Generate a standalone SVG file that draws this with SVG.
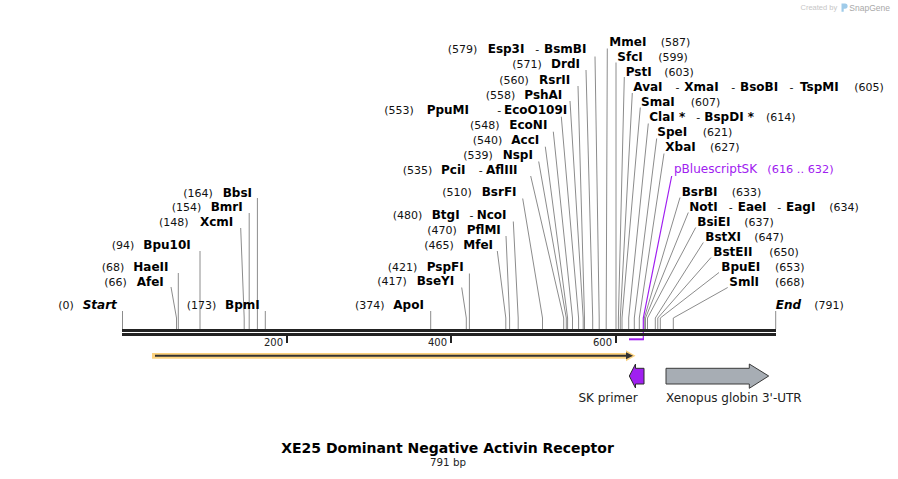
<svg xmlns="http://www.w3.org/2000/svg" width="898" height="479" viewBox="0 0 898 479">
<style>
text{font-family:"DejaVu Sans",Verdana,sans-serif;fill:#111}
.n{font-size:11px}
.b{font-size:12px;font-weight:bold;fill:#000}
.bi{font-size:12px;font-weight:bold;font-style:italic;fill:#000}
.h{font-size:11px}
.p{fill:#a020f0}
.ld{stroke:#8c8c8c;stroke-width:1;fill:none}
.tk{font-size:10px;fill:#222;text-anchor:end}
.fl{font-size:12px;fill:#222}
</style>
<rect width="898" height="479" fill="#fff"/>

<g id="watermark">
<text x="800.5" y="10" style="font-family:'Liberation Sans',Arial,sans-serif;font-size:7.5px;fill:#c6c6c6">Created by</text>
<path d="M841.5 3.5h3.5a2.6 2.6 0 0 1 0 5.2h-1.3v3h-2.2z" fill="#9fcbe9"/>
<text x="849.3" y="10.5" style="font-family:'Liberation Sans',Arial,sans-serif;font-size:8.5px;fill:#a8a8a8">SnapGene</text>
</g>

<g id="connectors">
<polyline class="ld" points="122.5,311 122.5,329"/>
<polyline class="ld" points="171,287 176.5,318 176.5,329"/>
<polyline class="ld" points="178.3,273 178.3,329"/>
<polyline class="ld" points="200,251 200,329"/>
<polyline class="ld" points="240.7,228 244.2,318 244.2,329"/>
<polyline class="ld" points="249.2,213 249.2,329"/>
<polyline class="ld" points="257.4,198 257.4,329"/>
<polyline class="ld" points="265.3,311 265.3,329"/>
<polyline class="ld" points="430.7,311 430.7,329"/>
<polyline class="ld" points="461.7,287.5 466.3,318 466.3,329"/>
<polyline class="ld" points="469.4,273.5 469.4,329"/>
<polyline class="ld" points="497.3,251 505.8,318 505.8,329"/>
<polyline class="ld" points="506,236 509.6,318 509.6,329"/>
<polyline class="ld" points="513.3,221.5 518.2,318 518.2,329"/>
<polyline class="ld" points="522.7,198.5 542.5,318 542.5,329"/>
<polyline class="ld" points="530.7,176 563.7,318 563.7,329"/>
<polyline class="ld" points="538.7,161.5 566.3,318 566.3,329"/>
<polyline class="ld" points="545.3,146.7 567.6,318 567.6,329"/>
<polyline class="ld" points="553.3,131.7 572.5,318 572.5,329"/>
<polyline class="ld" points="561.3,116.7 578.6,318 578.6,329"/>
<polyline class="ld" points="570,101 583.2,318 583.2,329"/>
<polyline class="ld" points="578,86 584.5,318 584.5,329"/>
<polyline class="ld" points="586,70 592.7,318 592.7,329"/>
<polyline class="ld" points="595,56.5 599.2,318 599.2,329"/>
<polyline class="ld" points="607.3,48.5 606.2,318 606.2,329"/>
<polyline class="ld" points="616,62.5 616,329"/>
<polyline class="ld" points="624.3,77 618.4,318 618.4,329"/>
<polyline class="ld" points="632.3,93 620.3,318 620.3,329"/>
<polyline class="ld" points="640.3,107.5 622,318 622,329"/>
<polyline class="ld" points="648.3,123.5 628.7,318 628.7,329"/>
<polyline class="ld" points="656.7,138.5 634.3,318 634.3,329"/>
<polyline class="ld" points="664,153.5 639.3,318 639.3,329"/>
<polyline class="ld" points="680,197.5 644.3,318 644.3,329"/>
<polyline class="ld" points="688.3,212.5 645.5,318 645.5,329"/>
<polyline class="ld" points="695.7,227.5 647.5,318 647.5,329"/>
<polyline class="ld" points="703.3,242.5 655.3,318 655.3,329"/>
<polyline class="ld" points="711,257.5 657.8,318 657.8,329"/>
<polyline class="ld" points="719,272.5 660.3,318 660.3,329"/>
<polyline class="ld" points="727.7,287.5 673.3,318 673.3,329"/>
<polyline class="ld" points="775.7,311 775.7,329"/>
<polyline points="671.7,176 643.3,318 643.3,340" style="stroke:#a020f0;stroke-width:1.2;fill:none"/>
<line x1="629" y1="339.3" x2="643.8" y2="339.3" style="stroke:#a020f0;stroke-width:2"/>
</g>

<g id="backbone">
<rect x="122" y="329" width="654" height="3" fill="#222"/>
<rect x="122" y="333" width="654" height="3" fill="#222"/>
<rect x="286" y="335" width="2" height="8" fill="#222"/>
<rect x="450" y="335" width="2" height="8" fill="#222"/>
<rect x="615" y="335" width="2" height="8" fill="#222"/>
<text class="tk" x="283" y="346">200</text>
<text class="tk" x="447" y="346">400</text>
<text class="tk" x="612" y="346">600</text>
</g>

<g id="sites-left">
<text x="58.3" y="308.5" class="n">(0)</text><text x="82.7" y="308.5" class="bi">Start</text>
<text x="104.3" y="285.5" class="n">(66)</text><text x="136.7" y="285.5" class="b">AfeI</text>
<text x="101.7" y="271" class="n">(68)</text><text x="133.3" y="271" class="b">HaeII</text>
<text x="111.7" y="248.5" class="n">(94)</text><text x="143.3" y="248.5" class="b">Bpu10I</text>
<text x="159" y="225.5" class="n">(148)</text><text x="200" y="225.5" class="b">XcmI</text>
<text x="171.7" y="211" class="n">(154)</text><text x="210.7" y="211" class="b">BmrI</text>
<text x="183.3" y="196.5" class="n">(164)</text><text x="222.7" y="196.5" class="b">BbsI</text>
<text x="186.7" y="308.5" class="n">(173)</text><text x="225" y="308.5" class="b">BpmI</text>
</g>

<g id="sites-middle">
<text x="355" y="308.5" class="n">(374)</text><text x="393.3" y="308.5" class="b">ApoI</text>
<text x="377.3" y="285" class="n">(417)</text><text x="416.7" y="285" class="b">BseYI</text>
<text x="387.7" y="270.5" class="n">(421)</text><text x="426.7" y="270.5" class="b">PspFI</text>
<text x="424.3" y="248.5" class="n">(465)</text><text x="463.3" y="248.5" class="b">MfeI</text>
<text x="427.3" y="233.5" class="n">(470)</text><text x="466.7" y="233.5" class="b">PflMI</text>
<text x="392.7" y="218.5" class="n">(480)</text><text x="431.7" y="218.5" class="b">BtgI</text><text x="469.5" y="218.5" class="h">-</text><text x="476.7" y="218.5" class="b">NcoI</text>
<text x="442.3" y="196" class="n">(510)</text><text x="481.7" y="196" class="b">BsrFI</text>
<text x="402.7" y="173.5" class="n">(535)</text><text x="441" y="173.5" class="b">PciI</text><text x="478.8" y="173.5" class="h">-</text><text x="486" y="173.5" class="b">AflIII</text>
<text x="463.3" y="158.5" class="n">(539)</text><text x="502.7" y="158.5" class="b">NspI</text>
<text x="472.7" y="143.5" class="n">(540)</text><text x="511.3" y="143.5" class="b">AccI</text>
<text x="470" y="128.5" class="n">(548)</text><text x="509.3" y="128.5" class="b">EcoNI</text>
<text x="384.3" y="113.5" class="n">(553)</text><text x="426.7" y="113.5" class="b">PpuMI</text><text x="497.2" y="113.5" class="h">-</text><text x="504" y="113.5" class="b">EcoO109I</text>
<text x="485.7" y="98.5" class="n">(558)</text><text x="524.3" y="98.5" class="b">PshAI</text>
<text x="499.3" y="83.5" class="n">(560)</text><text x="539" y="83.5" class="b">RsrII</text>
<text x="512.3" y="68" class="n">(571)</text><text x="551" y="68" class="b">DrdI</text>
<text x="447.7" y="53" class="n">(579)</text><text x="487.7" y="53" class="b">Esp3I</text><text x="535.2" y="53" class="h">-</text><text x="544" y="53" class="b">BsmBI</text>
</g>

<g id="sites-right">
<text x="609.3" y="46" class="b">MmeI</text><text x="660.7" y="46" class="n">(587)</text>
<text x="617.3" y="60.5" class="b">SfcI</text><text x="658.3" y="60.5" class="n">(599)</text>
<text x="625.7" y="75.5" class="b">PstI</text><text x="664.3" y="75.5" class="n">(603)</text>
<text x="633.3" y="90.5" class="b">AvaI</text><text x="675.5" y="90.5" class="h">-</text><text x="684.3" y="90.5" class="b">XmaI</text><text x="731.2" y="90.5" class="h">-</text><text x="740" y="90.5" class="b">BsoBI</text><text x="789.5" y="90.5" class="h">-</text><text x="800" y="90.5" class="b">TspMI</text><text x="854.3" y="90.5" class="n">(605)</text>
<text x="641" y="105.5" class="b">SmaI</text><text x="690.7" y="105.5" class="n">(607)</text>
<text x="649.3" y="120.5" class="b">ClaI *</text><text x="696.2" y="120.5" class="h">-</text><text x="704.3" y="120.5" class="b">BspDI *</text><text x="766" y="120.5" class="n">(614)</text>
<text x="657.3" y="135.5" class="b">SpeI</text><text x="702.7" y="135.5" class="n">(621)</text>
<text x="665.3" y="150.5" class="b">XbaI</text><text x="710" y="150.5" class="n">(627)</text>
<text x="674" y="173" class="p" style="font-size:12px">pBluescriptSK</text><text x="767.3" y="173" class="p" style="font-size:11.3px">(616 .. 632)</text>
<text x="681.7" y="195.5" class="b">BsrBI</text><text x="731.7" y="195.5" class="n">(633)</text>
<text x="689.3" y="210.5" class="b">NotI</text><text x="728.8" y="210.5" class="h">-</text><text x="737.7" y="210.5" class="b">EaeI</text><text x="777.2" y="210.5" class="h">-</text><text x="786" y="210.5" class="b">EagI</text><text x="829.3" y="210.5" class="n">(634)</text>
<text x="697.3" y="225.5" class="b">BsiEI</text><text x="744.3" y="225.5" class="n">(637)</text>
<text x="705.3" y="240.5" class="b">BstXI</text><text x="754.3" y="240.5" class="n">(647)</text>
<text x="713.3" y="255.5" class="b">BstEII</text><text x="769.3" y="255.5" class="n">(650)</text>
<text x="721.3" y="270.5" class="b">BpuEI</text><text x="775" y="270.5" class="n">(653)</text>
<text x="729.3" y="285.5" class="b">SmlI</text><text x="775" y="285.5" class="n">(668)</text>
<text x="775.7" y="308.5" class="bi">End</text><text x="814.3" y="308.5" class="n">(791)</text>
</g>

<g id="orf">
<path d="M152 353h474v-2.8l9.5 5.5-9.5 5.5v-2.5h-474z" fill="#fcd27e"/>
<line x1="155" y1="355.7" x2="628" y2="355.7" stroke="#333" stroke-width="2"/>
<polygon points="626,352.2 633,355.7 626,359.2" fill="#333"/>
</g>

<g id="sk-primer">
<polygon points="629.3,376 635.5,364 635.5,368.3 644,368.3 644,384 635.5,384 635.5,388" fill="#a020f0" stroke="#2a2a2a" stroke-width="1"/>
<text x="608" y="402" class="fl" text-anchor="middle">SK primer</text>
</g>

<g id="globin-utr">
<polygon points="666,368.3 749.3,368.3 749.3,364 768.7,376 749.3,388.3 749.3,384 666,384" fill="#a7adb4" stroke="#3a3a3a" stroke-width="1"/>
<text x="666" y="402" class="fl">Xenopus globin 3'-UTR</text>
</g>

<g id="title">
<text x="447.5" y="452.7" text-anchor="middle" style="font-size:14px;font-weight:bold;fill:#000">XE25 Dominant Negative Activin Receptor</text>
<text x="448" y="466" text-anchor="middle" style="font-size:10.3px;fill:#222">791 bp</text>
</g>
</svg>
